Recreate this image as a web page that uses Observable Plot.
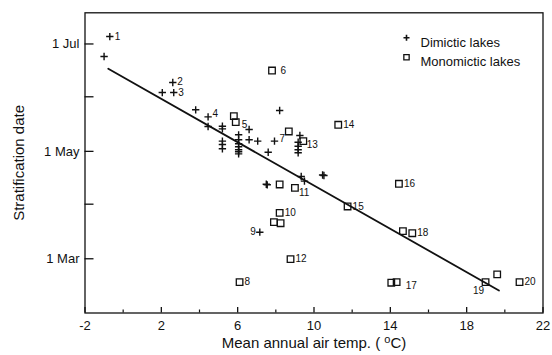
<!DOCTYPE html>
<html><head><meta charset="utf-8">
<script src="https://cdn.jsdelivr.net/npm/d3@7"></script>
<script src="https://cdn.jsdelivr.net/npm/@observablehq/plot@0.6"></script>
<style>body{margin:0;background:#fff}</style>
</head><body><div id="chart"></div>
<script>
// Dimictic lakes (+): mean annual air temp (°C), stratification day-of-year
const dimTemp = [-0.7, -1.0, 2.6, 2.65, 2.05, 3.8, 4.45, 4.45, 5.2, 5.2, 5.2, 5.2, 5.2,
  6.05, 6.05, 6.05, 6.05, 6.05, 6.05, 6.05, 6.6, 6.6, 7.05, 8.2, 7.93, 7.6, 9.26,
  9.17, 9.17, 9.17, 9.17, 9.33, 9.5, 10.52, 10.45, 7.55, 7.5, 7.16];
const dimDay = [186.2, 174.9, 160.1, 154.4, 154.4, 144.6, 140.6, 135.1, 135.3, 133.8, 126.8, 124.9, 122.5,
  130.4, 127.6, 125.3, 123.6, 121.9, 120.8, 119.6, 133.4, 127.6, 126.8, 144.2, 126.8, 120.5, 130.0,
  126.2, 123.9, 121.9, 120.2, 106.7, 104.1, 107.3, 107.6, 102.0, 102.3, 75.1];
const dimLabel = ["1", "", "2", "3", "", "", "4", "", "", "", "", "", "",
  "", "", "", "", "", "", "", "", "", "", "", "7", "", "",
  "", "", "", "", "", "", "", "", "", "", "9"];

// Monomictic lakes (squares)
const monoTemp = [7.8, 5.8, 5.9, 8.68, 9.44, 11.27, 8.2, 9.0, 11.76, 8.2, 7.9, 8.25, 6.1, 8.77,
  14.45, 14.66, 15.15, 14.05, 14.33, 18.99, 19.6, 20.77];
const monoDay = [166.9, 141.0, 137.6, 132.3, 126.8, 136.1, 102.2, 100.3, 89.7, 86.1, 80.8, 80.2, 46.7, 59.8,
  102.6, 75.7, 74.5, 46.4, 46.7, 46.7, 51.1, 46.7];
const monoLabel = ["6", "", "5", "", "13", "14", "", "11", "15", "10", "", "", "8", "12",
  "16", "", "18", "", "17", "19", "", "20"];

// Regression line end points
const fitTemp = [-0.78, 19.69];
const fitDay = [167.9, 42.0];

const xMajorTicks = [-2, 2, 6, 10, 14, 18, 22];
const xMinorTicks = [0, 4, 8, 12, 16, 20];
const yTickDays = [60, 91, 121, 152, 182];
const yTickLabels = ["1 Mar", "", "1 May", "", "1 Jul"];
const legendLabels = ["Dimictic lakes", "Monomictic lakes"];
const xTitle = "Mean annual air temp. ( °C)";
const yTitle = "Stratification date";

const dims = dimTemp.map((t, i) => ({temp: t, day: dimDay[i], label: dimLabel[i]}));
const monos = monoTemp.map((t, i) => ({temp: t, day: monoDay[i], label: monoLabel[i]}));
const fit = fitTemp.map((t, i) => ({temp: t, day: fitDay[i]}));

const place = {
  "2": {dx: 4.5, dy: -0.5}, "3": {dx: 4.5, dy: 0.5},
  "4": {dx: 4.5, dy: -3}, "5": {dx: 6, dy: 3}, "6": {dx: 8.5, dy: 0}, "7": {dx: 5, dy: -2},
  "9": {dx: -4, dy: 0, textAnchor: "end"}, "11": {dx: 4, dy: 4.5}, "13": {dx: 3.5, dy: 3.7},
  "17": {dx: 9, dy: 3.3}, "19": {dx: -7, dy: 9, textAnchor: "middle"}
};
const labelMarks = [...dims, ...monos].filter(d => d.label).map(d => {
  const p = place[d.label] || {};
  return Plot.text([d], {x: "temp", y: "day", text: "label", dx: p.dx ?? 5, dy: p.dy ?? 0,
    textAnchor: p.textAnchor ?? "start", fontSize: 10, fill: "#111"});
});

const ink = "#111";
const chart = Plot.plot({
  width: 552, height: 355,
  marginLeft: 84.5, marginRight: 9.5, marginTop: 12.3, marginBottom: 42.5,
  style: {fontFamily: "'Liberation Sans', Arial, sans-serif", color: ink, background: "#fff"},
  x: {domain: [-2, 22], axis: null},
  y: {domain: [29.2, 199.7], axis: null},
  marks: [
    Plot.frame({stroke: ink, strokeWidth: 1.3}),
    Plot.axisY(yTickDays, {tickSize: -9, tickFormat: () => "", label: null, strokeWidth: 1.3}),
    Plot.axisY(yTickDays, {tickSize: 0, tickPadding: 5.5, tickFormat: d => yTickLabels[yTickDays.indexOf(d)], fontSize: 13, label: null}),
    Plot.axisX(xMajorTicks, {tickSize: -5.5, tickFormat: () => "", label: null, strokeWidth: 1.3}),
    Plot.axisX(xMinorTicks, {tickSize: -3, tickFormat: () => "", label: null, strokeWidth: 1.2}),
    Plot.axisX(xMajorTicks, {tickSize: 0, tickPadding: 8, tickFormat: d => String(d), fontSize: 13, label: null}),
    Plot.text([xTitle], {frameAnchor: "bottom", dy: 35, fontSize: 15, fill: ink, textAnchor: "middle"}),
    Plot.text([yTitle], {frameAnchor: "left", dx: -65.5, rotate: -90, fontSize: 15, fill: ink, textAnchor: "middle"}),
    Plot.line(fit, {x: "temp", y: "day", stroke: ink, strokeWidth: 1.8}),
    Plot.dot(dims, {x: "temp", y: "day", symbol: "plus", r: 2.5, stroke: ink, strokeWidth: 1.4}),
    Plot.dot(monos, {x: "temp", y: "day", symbol: "square", r: 3.7, stroke: ink, strokeWidth: 1.3, fill: "none"}),
    ...labelMarks,
    Plot.dot([legendLabels[0]], {frameAnchor: "top-left", dx: 321.5, dy: 25, symbol: "plus", r: 2.1, stroke: ink, strokeWidth: 1.6}),
    Plot.dot([legendLabels[1]], {frameAnchor: "top-left", dx: 321.5, dy: 44.4, symbol: "square", r: 3, stroke: ink, strokeWidth: 1.3, fill: "none"}),
    Plot.text([legendLabels[0]], {frameAnchor: "top-left", dx: 335.5, dy: 25, fontSize: 13, fill: ink, textAnchor: "start"}),
    Plot.text([legendLabels[1]], {frameAnchor: "top-left", dx: 335.5, dy: 44.4, fontSize: 13, fill: ink, textAnchor: "start"})
  ]
});
document.getElementById("chart").appendChild(chart);

// superscript "o" in the x title
const NS = "http://www.w3.org/2000/svg";
chart.querySelectorAll("text").forEach(t => {
  if (t.textContent === xTitle) {
    t.textContent = "";
    t.appendChild(document.createTextNode("Mean annual air temp. ( "));
    const s = document.createElementNS(NS, "tspan");
    s.setAttribute("dy", "-5"); s.setAttribute("font-size", "11"); s.textContent = "o";
    const c = document.createElementNS(NS, "tspan");
    c.setAttribute("dy", "5"); c.textContent = "C)";
    t.appendChild(s); t.appendChild(c);
  }
});
</script>
</body></html>
